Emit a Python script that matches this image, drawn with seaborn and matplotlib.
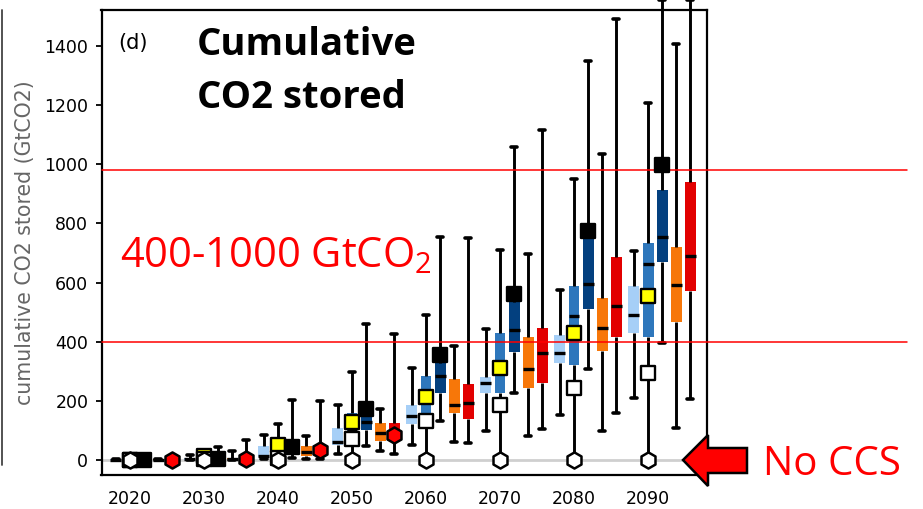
import numpy as np
import pandas as pd
import matplotlib
matplotlib.use("Agg")
import matplotlib.pyplot as plt
import seaborn as sns
from matplotlib.patches import Polygon
from matplotlib.lines import Line2D

# ---------------- data ----------------
years = [2020, 2030, 2040, 2050, 2060, 2070, 2080, 2090]
groups = ["group 1", "group 2", "group 3", "group 4", "group 5"]

# five-number summaries per decade: (whisker low, q1, median, q3, whisker high)
stats_group1 = [(0, 0, 1, 2, 3), (0, 1, 3, 6, 15), (2, 9, 13, 47, 85), (20, 51, 59, 107, 187),
                (50, 122, 149, 186, 310), (98, 226, 259, 280, 442), (151, 329, 361, 423, 575),
                (209, 428, 490, 588, 708)]
stats_group2 = [(0, 0, 1, 2, 4), (0, 1, 3, 8, 18), (0, 10, 30, 55, 122), (0, 50, 100, 158, 296),
                (0, 120, 200, 284, 490), (0, 226, 330, 428, 710), (0, 321, 487, 588, 950),
                (0, 415, 662, 733, 1208)]
stats_group3 = [(0, 0, 1, 2, 3), (0, 1, 3, 6, 45), (7, 25, 40, 50, 203), (47, 101, 127, 160, 459),
                (130, 228, 284, 329, 755), (226, 364, 440, 535, 1058), (307, 510, 594, 750, 1349),
                (395, 671, 753, 913, 1555)]
stats_group4 = [(0, 0, 1, 2, 3), (0, 2, 4, 6, 31), (2, 14, 28, 47, 81), (30, 65, 90, 126, 172),
                (61, 158, 186, 273, 386), (82, 242, 307, 415, 696), (98, 370, 445, 548, 1036),
                (107, 468, 592, 719, 1406)]
stats_group5 = [(0, 0, 1, 2, 4), (0, 1, 3, 6, 68), (2, 20, 34, 45, 200), (20, 60, 85, 126, 426),
                (56, 138, 192, 257, 750), (106, 259, 361, 445, 1116), (158, 417, 521, 685, 1491),
                (207, 573, 690, 939, 1555)]

white_square = [0, 2, 5, 71, 130, 186, 242, 295]
yellow_square = [0, 12, 51, 127, 212, 310, 428, 555]
black_square = [0, 2, 45, 171, 355, 561, 775, 998]
red_marker_years = [2020, 2030, 2040, 2050]
red_marker = [0, 2, 34, 85]
no_ccs = [0, 0, 0, 0, 0, 0, 0, 0]

ref_lines = [980, 400]
yticks = [0, 200, 400, 600, 800, 1000, 1200, 1400]

# ---------------- layout / style ----------------
W, H = 923, 509
offsets = [-1.9, 0.0, 1.9, 3.8, 5.7]          # position of each group within a decade
colors = ["#a6cff7", "#2e77bc", "#03407f", "#f77709", "#e20000"]

sns.set_style("ticks")
plt.rcParams["font.family"] = ["DejaVu Sans"]

fig = plt.figure(figsize=(W / 100, H / 100), dpi=100)
ax = fig.add_axes([101.5 / W, 1 - 475 / H, (707 - 101.5) / W, (475 - 10) / H])

rows = []
all_stats = [stats_group1, stats_group2, stats_group3, stats_group4, stats_group5]
for g, off, st in zip(groups, offsets, all_stats):
    for yr, five in zip(years, st):
        for v in five:
            rows.append({"group": g, "x": yr + off, "value": v})
df = pd.DataFrame(rows)

sns.boxplot(data=df, x="x", y="value", hue="group", palette=dict(zip(groups, colors)),
            native_scale=True, dodge=False, whis=(0, 100), width=0.78, showfliers=False,
            saturation=1, linecolor="black", linewidth=2.0,
            medianprops=dict(color="black", linewidth=2.4),
            capprops=dict(color="black", linewidth=2.6),
            whiskerprops=dict(color="black", linewidth=2.1),
            legend=False, ax=ax)

for p in ax.patches:
    p.set_linewidth(0)
    p.set_clip_on(False)
for ln in ax.lines:
    ln.set_clip_on(False)

ax.axhline(0, color="#cfcfcf", lw=2, zorder=0.5)
for v in ref_lines:
    ax.axhline(v, xmin=0, xmax=(907 - 101.5) / (707 - 101.5), color="red", lw=1.1,
               clip_on=False, zorder=3)

mid_x = [y + offsets[1] for y in years]
dark_x = [y + offsets[2] for y in years]
red_x = [y + offsets[4] for y in red_marker_years]
sq = dict(marker="s", s=105, edgecolor="black", linewidth=1.7, clip_on=False)
sns.scatterplot(x=mid_x, y=yellow_square, color="#ffff00", zorder=6, ax=ax, **sq)
sns.scatterplot(x=mid_x, y=white_square, color="white", zorder=7, ax=ax, **sq)
sns.scatterplot(x=dark_x, y=black_square, color="black", zorder=7, ax=ax, **sq)
hx = dict(marker="h", s=135, edgecolor="black", linewidth=1.8, clip_on=False)
sns.scatterplot(x=mid_x, y=no_ccs, color="white", zorder=8, ax=ax, **hx)
sns.scatterplot(x=red_x, y=red_marker, color="#ff0000", zorder=8, ax=ax, **hx)

ax.set_xlim(2016.15, 2097.97)
ax.set_ylim(-51, 1522)
ax.set_xticks(years)
ax.set_xticklabels([str(y) for y in years])
ax.set_yticks(yticks)
ax.set_yticklabels([str(v) for v in yticks])
ax.set_xlabel("")
ax.set_ylabel("cumulative CO2 stored (GtCO2)", color="#666666", fontsize=14.8, labelpad=7)
ax.tick_params(axis="y", length=4.5, width=1.3, pad=5, labelsize=12.5, colors="black")
ax.tick_params(axis="x", length=0, pad=11, labelsize=12.5, colors="black")
for s in ax.spines.values():
    s.set_visible(True)
    s.set_color("black")
    s.set_linewidth(1.6)

def fx(px):
    return px / W

def fy(py):
    return 1 - py / H

fig.text(fx(118), fy(49), "(d)", fontsize=15, color="black", va="baseline", ha="left")
fig.text(fx(197), fy(55), "Cumulative", fontsize=27.5, fontweight="bold", family=["Open Sans", "DejaVu Sans"],
         va="baseline", ha="left", color="black")
fig.text(fx(197), fy(108), "CO2 stored", fontsize=27.5, fontweight="bold", family=["Open Sans", "DejaVu Sans"],
         va="baseline", ha="left", color="black")
fig.text(fx(120), fy(267), "400-1000 GtCO$_\\mathregular{2}$", fontsize=30, color="#ff0000",
         family=["Open Sans", "DejaVu Sans"], va="baseline", ha="left")
fig.text(fx(763), fy(475), "No CCS", fontsize=29, color="#ff0000",
         family=["Open Sans", "DejaVu Sans"], va="baseline", ha="left")

arrow_px = [(683, 460), (708, 435), (708, 448), (747, 448), (747, 473), (708, 473), (708, 486)]
fig.add_artist(Polygon([(fx(a), fy(b)) for a, b in arrow_px], closed=True, facecolor="#ff0000",
                       edgecolor="black", linewidth=1.8, transform=fig.transFigure, zorder=10))
fig.add_artist(Line2D([fx(1.5), fx(1.5)], [fy(10), fy(465)], color="#444444", lw=1.3,
                      transform=fig.transFigure))

fig.savefig("out.png", dpi=100)
